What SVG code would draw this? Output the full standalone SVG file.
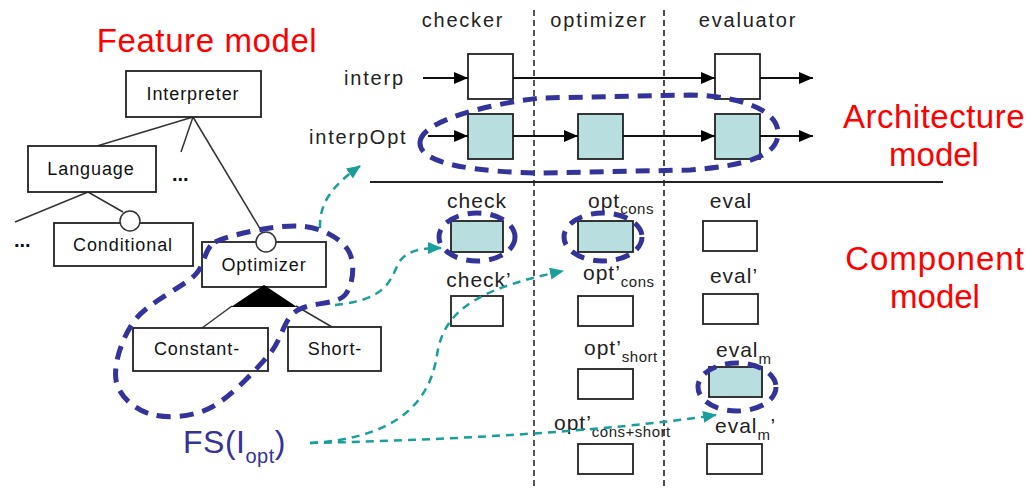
<svg xmlns="http://www.w3.org/2000/svg" width="1031" height="489" viewBox="0 0 1031 489">
<defs>
<style>
.bx{fill:#ffffff;stroke:#222;stroke-width:1.8}
.tl{fill:#b8dee0;stroke:#222;stroke-width:1.8}
.fl{fill:none;stroke:#333;stroke-width:1.5}
.ft{font-family:"Liberation Sans",Arial,sans-serif;font-size:18px;letter-spacing:0.9px;fill:#111;text-anchor:middle}
.lb{font-family:"Liberation Sans",Arial,sans-serif;font-size:20px;letter-spacing:1.8px;fill:#222}
.cl{font-family:"Liberation Sans",Arial,sans-serif;font-size:21px;letter-spacing:1px;fill:#222}
.sb{font-size:15px;letter-spacing:0.5px}
.red{font-family:"Liberation Sans",Arial,sans-serif;font-size:33px;fill:#ff0000;text-anchor:middle}
.ar{fill:none;stroke:#111;stroke-width:1.8}
.blue{fill:none;stroke:#333399;stroke-width:5;stroke-dasharray:14 9}
.teal{fill:none;stroke:#1a9e9a;stroke-width:2.5;stroke-dasharray:8 6}
</style>
<marker id="ah" markerUnits="userSpaceOnUse" markerWidth="14" markerHeight="12" viewBox="0 0 14 12" refX="14" refY="6" orient="auto">
<path d="M0,0 L14,6 L0,12 z" fill="#000"/>
</marker>
<marker id="th" markerUnits="userSpaceOnUse" markerWidth="14" markerHeight="12" viewBox="0 0 14 12" refX="13" refY="6" orient="auto">
<path d="M0,0 L14,6 L0,12 z" fill="#1a9e9a"/>
</marker>
</defs>

<!-- titles -->
<text class="red" x="207" y="52" style="letter-spacing:0.6px">Feature model</text>
<text class="red" x="934" y="128" style="letter-spacing:0.5px">Architecture</text>
<text class="red" x="934" y="166">model</text>
<text class="red" x="935" y="270" style="letter-spacing:1px">Component</text>
<text class="red" x="935" y="308">model</text>

<!-- column separators -->
<line x1="534" y1="10" x2="534" y2="489" stroke="#555" stroke-width="2" stroke-dasharray="6 4"/>
<line x1="664" y1="10" x2="664" y2="489" stroke="#111" stroke-width="1.5" stroke-dasharray="6 4"/>
<line x1="370" y1="182" x2="943" y2="182" stroke="#222" stroke-width="2"/>

<!-- column labels -->
<text class="lb" x="463" y="27" text-anchor="middle">checker</text>
<text class="lb" x="599" y="27" text-anchor="middle">optimizer</text>
<text class="lb" x="748" y="27" text-anchor="middle">evaluator</text>
<text class="lb" x="344" y="85">interp</text>
<text class="lb" x="309" y="144">interpOpt</text>

<!-- feature model lines -->
<g id="fm-edges">
<line class="fl" x1="193" y1="117" x2="97" y2="146"/>
<line class="fl" x1="193" y1="117" x2="181" y2="152"/>
<line class="fl" x1="193" y1="117" x2="262" y2="232"/>
<line class="fl" x1="88" y1="192" x2="15" y2="222"/>
<line class="fl" x1="88" y1="192" x2="123" y2="212"/>
<line class="fl" x1="232" y1="306" x2="202" y2="328"/>
<line class="fl" x1="296" y1="306" x2="332" y2="327"/>
</g>

<g id="interpreter"><rect class="bx" x="126" y="71" width="135" height="46"/><text class="ft" x="193" y="100">Interpreter</text></g>
<g id="language"><rect class="bx" x="28" y="146" width="128" height="46"/><text class="ft" x="91" y="175">Language</text></g>
<g id="conditional"><rect class="bx" x="54" y="223" width="139" height="43"/><circle cx="130" cy="221" r="10" fill="#fff" stroke="#333" stroke-width="1.5"/><text class="ft" x="123" y="251">Conditional</text></g>
<g id="optimizer"><rect class="bx" x="202" y="242" width="124" height="45"/><circle cx="266" cy="242" r="10" fill="#fff" stroke="#333" stroke-width="1.5"/><text class="ft" x="264" y="271">Optimizer</text>
<path d="M264,285 L231,307 L297,307 z" fill="#000"/></g>
<g id="constant"><rect class="bx" x="133" y="328" width="135" height="43"/><text class="ft" x="197" y="355">Constant-</text></g>
<g id="short"><rect class="bx" x="288" y="327" width="93" height="44"/><text class="ft" x="335" y="355">Short-</text></g>
<text x="172" y="181" font-family="Liberation Sans,Arial,sans-serif" font-size="20" font-weight="bold" fill="#111">...</text>
<text x="14" y="247" font-family="Liberation Sans,Arial,sans-serif" font-size="20" font-weight="bold" fill="#111">...</text>

<!-- architecture boxes -->
<g id="arch-interp-checker"><rect class="bx" x="468" y="54" width="45" height="45"/></g>
<g id="arch-interp-evaluator"><rect class="bx" x="715" y="54" width="45" height="45"/></g>
<g id="arch-opt-checker"><rect class="tl" x="468" y="114" width="45" height="45"/></g>
<g id="arch-opt-optimizer"><rect class="tl" x="578" y="114" width="45" height="45"/></g>
<g id="arch-opt-evaluator"><rect class="tl" x="715" y="114" width="45" height="45"/></g>

<!-- component nodes -->
<g id="check"><text class="cl" x="477" y="208" text-anchor="middle">check</text><rect class="tl" x="451" y="221" width="52" height="31"/></g>
<g id="check2"><text class="cl" x="479" y="287" text-anchor="middle">check’</text><rect class="bx" x="451" y="296" width="52" height="30"/></g>
<g id="optcons"><text class="cl" x="588" y="208">opt<tspan class="sb" dy="6">cons</tspan></text><rect class="tl" x="578" y="221" width="55" height="31"/></g>
<g id="optcons2"><text class="cl" x="583" y="280">opt’<tspan class="sb" dy="7">cons</tspan></text><rect class="bx" x="578" y="296" width="55" height="30"/></g>
<g id="optshort"><text class="cl" x="584" y="355">opt’<tspan class="sb" dy="7">short</tspan></text><rect class="bx" x="578" y="369" width="55" height="30"/></g>
<g id="optconsshort"><text class="cl" x="554" y="430">opt’<tspan class="sb" dy="7">cons+short</tspan></text><rect class="bx" x="578" y="444" width="55" height="30"/></g>
<g id="eval"><text class="cl" x="731" y="208" text-anchor="middle">eval</text><rect class="bx" x="703" y="221" width="54" height="30"/></g>
<g id="eval2"><text class="cl" x="734" y="283" text-anchor="middle">eval’</text><rect class="bx" x="703" y="294" width="55" height="30"/></g>
<g id="evalm"><text class="cl" x="716" y="357">eval<tspan class="sb" dy="7">m</tspan></text><rect class="tl" x="709" y="367" width="53" height="30"/></g>
<g id="evalm2"><text class="cl" x="715" y="433">eval<tspan class="sb" dy="7">m</tspan><tspan dy="-7">’</tspan></text><rect class="bx" x="707" y="444" width="55" height="30"/></g>

<g id="fs"><text x="183" y="453" font-family="Liberation Sans,Arial,sans-serif" font-size="32" fill="#333399" letter-spacing="0.5">FS(I<tspan font-size="20" dy="10">opt</tspan><tspan dy="-10">)</tspan></text></g>

<!-- connectors -->
<g id="connectors">
<line class="ar" x1="423" y1="78" x2="468" y2="78" marker-end="url(#ah)"/>
<line class="ar" x1="513" y1="78" x2="715" y2="78" marker-end="url(#ah)"/>
<line class="ar" x1="760" y1="78" x2="813" y2="78" marker-end="url(#ah)"/>
<line class="ar" x1="428" y1="136" x2="468" y2="136" marker-end="url(#ah)"/>
<line class="ar" x1="513" y1="136" x2="578" y2="136" marker-end="url(#ah)"/>
<line class="ar" x1="623" y1="136" x2="715" y2="136" marker-end="url(#ah)"/>
<line class="ar" x1="760" y1="136" x2="813" y2="136" marker-end="url(#ah)"/>

<path class="teal" d="M320,228 C319,203 333,185 360,166" marker-end="url(#th)"/>
<path class="teal" d="M335,305 C385,300 390,282 398,264 C405,251 420,248 441,248" marker-end="url(#th)"/>
<path class="teal" d="M310,443 C400,438 430,400 437,355 C443,315 470,290 563,271" marker-end="url(#th)"/>
<path class="teal" d="M310,443 C450,440 600,432 716,415" marker-end="url(#th)"/>

<path class="blue" d="M215,242 C232.5,233.8 277.8,224.7 300,226 C322.2,227.3 340.5,238.5 348,250 C355.5,261.5 353.8,284.7 345,295 C336.2,305.3 307.8,301.8 295,312 C282.2,322.2 282.2,340 268,356 C253.8,372 229.7,398.3 210,408 C190.3,417.7 165.7,418.7 150,414 C134.3,409.3 118.5,395.7 116,380 C113.5,364.3 121.8,337.5 135,320 C148.2,302.5 181.7,288 195,275 C206,264 203,250 215,242 Z"/>
<path class="blue" d="M420,142 C422,120 490,104 540,98 L690,95 C740,96 780,110 778,135 C776,158 740,166 690,170 L540,173 C480,172 418,165 420,142 Z"/>
<ellipse class="blue" cx="477" cy="237" rx="38" ry="24"/>
<ellipse class="blue" cx="603" cy="237" rx="39" ry="24"/>
<ellipse class="blue" cx="737" cy="387" rx="39" ry="24"/>
</g>
</svg>
